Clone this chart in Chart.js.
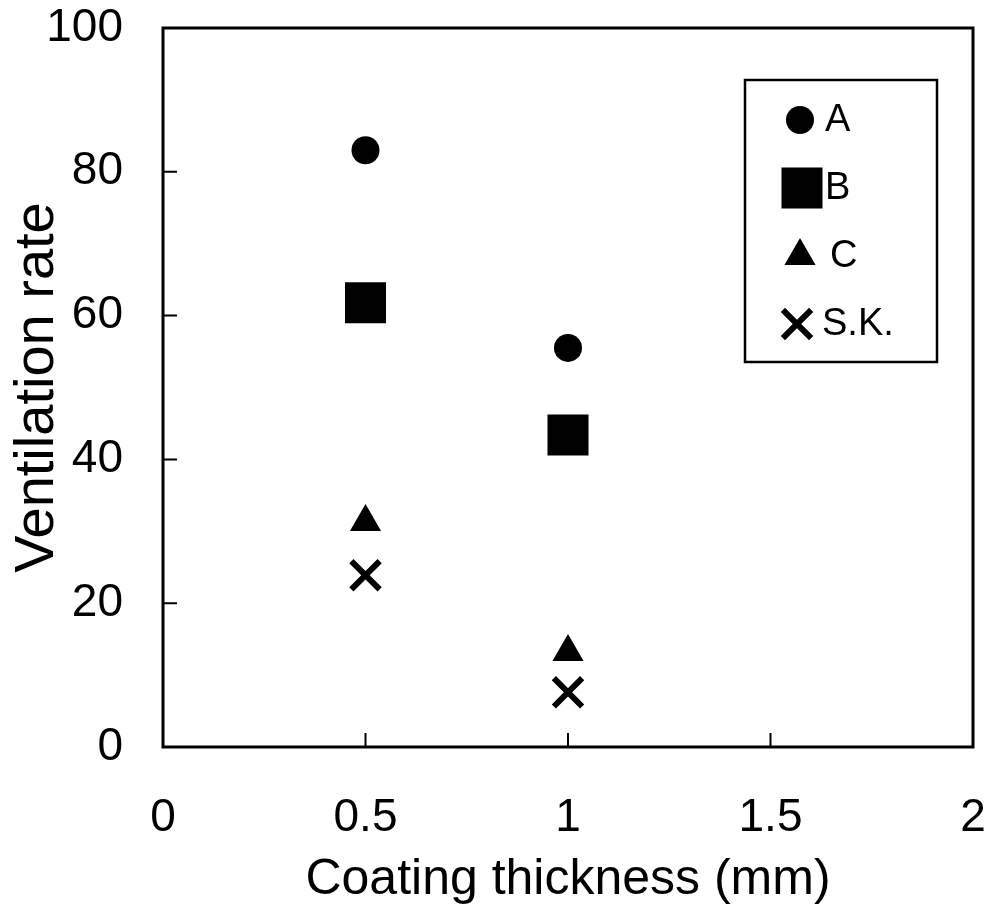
<!DOCTYPE html>
<html>
<head>
<meta charset="utf-8">
<script src="https://cdn.jsdelivr.net/npm/chart.js@4"></script>
<style>
  body { margin: 0; background: #fff; }
  #wrap { width: 989px; height: 920px; }
</style>
</head>
<body>
<div id="wrap"><canvas id="ventChart" width="989" height="920"></canvas></div>
<script>
// values
const thickness = [0.5, 1];
const seriesA = [83.0, 55.5];
const seriesB = [61.8, 43.4];
const seriesC = [31.3, 13.2];
const seriesSK = [23.9, 7.6];
const xTicks = [0, 0.5, 1, 1.5, 2];
const yTicks = [0, 20, 40, 60, 80, 100];

const FONT = "'Liberation Sans', Arial, sans-serif";

function pts(ys) {
    return thickness.map((x, i) => ({ x: x, y: ys[i] }));
}

// frame + inward tick marks
const framePlugin = {
    id: 'frame',
    beforeDatasetsDraw(chart) {
        const { ctx, chartArea: a, scales } = chart;
        ctx.save();
        ctx.strokeStyle = '#000';
        ctx.lineWidth = 3;
        ctx.strokeRect(a.left, a.top, a.right - a.left, a.bottom - a.top);
        ctx.lineWidth = 2;
        ctx.beginPath();
        yTicks.forEach(v => {
            const y = scales.y.getPixelForValue(v);
            ctx.moveTo(a.left, y);
            ctx.lineTo(a.left + 14, y);
        });
        xTicks.forEach(v => {
            const x = scales.x.getPixelForValue(v);
            ctx.moveTo(x, a.bottom);
            ctx.lineTo(x, a.bottom - 14);
        });
        ctx.stroke();
        ctx.restore();
    }
};

// boxed legend inside the plot, top right
const boxLegend = {
    id: 'boxLegend',
    afterDraw(chart) {
        const { ctx, chartArea: a } = chart;
        const left = a.right - 228, top = a.top + 52, w = 192, h = 282;
        ctx.save();
        ctx.strokeStyle = '#000';
        ctx.lineWidth = 2.5;
        ctx.strokeRect(left, top, w, h);
        ctx.font = '38px ' + FONT;
        ctx.textBaseline = 'middle';
        chart.data.datasets.forEach((ds, i) => {
            const y = top + 40 + i * 68;
            ctx.fillStyle = '#000';
            ctx.strokeStyle = '#000';
            ctx.lineWidth = ds.pointBorderWidth;
            Chart.helpers.drawPoint(ctx, {
                pointStyle: ds.pointStyle,
                radius: ds.pointRadius,
                rotation: 0,
                borderWidth: ds.pointBorderWidth
            }, left + ds.legendX, y);
            ctx.fillText(ds.label, left + ds.textX, y + 1);
        });
        ctx.restore();
    }
};

const mk = (label, ys, style, r, bw, legendX, textX) => ({
    label: label,
    data: pts(ys),
    pointStyle: style,
    pointRadius: r,
    pointHoverRadius: r,
    backgroundColor: '#000',
    borderColor: '#000',
    pointBorderWidth: bw,
    showLine: false,
    legendX: legendX,
    textX: textX
});

new Chart(document.getElementById('ventChart'), {
    type: 'scatter',
    data: {
        datasets: [
            mk('A', seriesA, 'circle', 14, 0, 55, 80),
            mk('B', seriesB, 'rect', 29, 0, 57, 80),
            mk('C', seriesC, 'triangle', 18, 0, 55, 85),
            mk('S.K.', seriesSK, 'crossRot', 20, 6, 52, 77)
        ]
    },
    options: {
        responsive: false,
        animation: false,
        layout: { autoPadding: false, padding: { left: 0, right: 16, top: 28, bottom: 0 } },
        plugins: {
            legend: { display: false },
            tooltip: { enabled: false }
        },
        scales: {
            x: {
                type: 'linear',
                min: 0,
                max: 2,
                afterBuildTicks: s => { s.ticks = xTicks.map(v => ({ value: v })); },
                afterFit: s => { s.height = 173; s.paddingLeft = 0; s.paddingRight = 0; },
                grid: { display: false, drawTicks: false },
                border: { display: false },
                ticks: {
                    color: '#000',
                    padding: 44,
                    font: { family: FONT, size: 46 },
                    callback: v => String(v)
                },
                title: {
                    display: true,
                    text: 'Coating thickness (mm)',
                    color: '#000',
                    font: { family: FONT, size: 50 },
                    padding: { top: 0, bottom: 10 }
                }
            },
            y: {
                min: 0,
                max: 100,
                afterBuildTicks: s => { s.ticks = yTicks.map(v => ({ value: v })); },
                afterFit: s => { s.width = 163; s.paddingTop = 0; s.paddingBottom = 0; },
                grid: { display: false, drawTicks: false },
                border: { display: false },
                ticks: { color: '#000', padding: 40, font: { family: FONT, size: 46 } },
                title: {
                    display: true,
                    text: 'Ventilation rate',
                    color: '#000',
                    font: { family: FONT, size: 56 },
                    padding: { top: 4, bottom: 0 }
                }
            }
        }
    },
    plugins: [framePlugin, boxLegend]
});
</script>
</body>
</html>
